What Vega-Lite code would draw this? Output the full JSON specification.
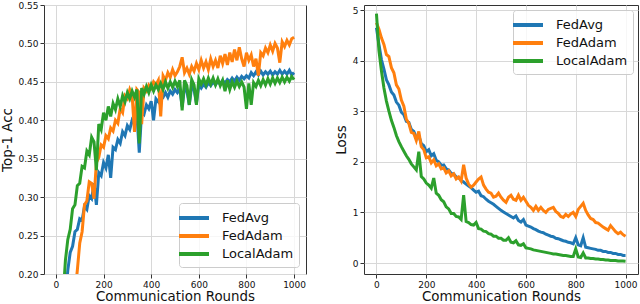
{
  "$schema": "https://vega.github.io/schema/vega-lite/v6.json",
  "padding": {"left": 0, "top": 0, "right": 3, "bottom": 0},
  "config": {
    "font": "DejaVu Sans",
    "view": {"stroke": "#333", "strokeWidth": 1},
    "axis": {"grid": true, "gridColor": "#d8d8d8", "gridWidth": 1, "domain": false, "tickColor": "#333", "tickSize": 4, "labelFontSize": 9, "labelColor": "#111", "labelPadding": 2, "titleFontSize": 13.4, "titleFontWeight": "normal", "titleColor": "#111"},
    "legend": {"title": null, "symbolType": "M-1.875,0H1.875", "symbolSize": 256, "symbolStrokeWidth": 4, "labelFontSize": 13, "labelColor": "#111", "labelOffset": 18, "rowPadding": 0, "padding": 5, "fillColor": "rgba(255,255,255,0.8)", "strokeColor": "#cccccc", "cornerRadius": 3}
  },
  "datasets": {
    "d": [
      {"round":0,"method":"FedAvg","acc":0.010,"loss":4.65},
      {"round":10,"method":"FedAvg","acc":0.030,"loss":4.32},
      {"round":20,"method":"FedAvg","acc":0.070,"loss":4.02},
      {"round":30,"method":"FedAvg","acc":0.120,"loss":3.83},
      {"round":40,"method":"FedAvg","acc":0.170,"loss":3.62},
      {"round":50,"method":"FedAvg","acc":0.205,"loss":3.52},
      {"round":60,"method":"FedAvg","acc":0.228,"loss":3.38},
      {"round":70,"method":"FedAvg","acc":0.236,"loss":3.32},
      {"round":80,"method":"FedAvg","acc":0.255,"loss":3.18},
      {"round":90,"method":"FedAvg","acc":0.258,"loss":3.12},
      {"round":100,"method":"FedAvg","acc":0.272,"loss":2.98},
      {"round":110,"method":"FedAvg","acc":0.270,"loss":2.93},
      {"round":120,"method":"FedAvg","acc":0.288,"loss":2.80},
      {"round":130,"method":"FedAvg","acc":0.284,"loss":2.78},
      {"round":140,"method":"FedAvg","acc":0.302,"loss":2.64},
      {"round":150,"method":"FedAvg","acc":0.298,"loss":2.60},
      {"round":160,"method":"FedAvg","acc":0.318,"loss":2.48},
      {"round":170,"method":"FedAvg","acc":0.290,"loss":2.52},
      {"round":180,"method":"FedAvg","acc":0.332,"loss":2.36},
      {"round":190,"method":"FedAvg","acc":0.328,"loss":2.32},
      {"round":200,"method":"FedAvg","acc":0.345,"loss":2.20},
      {"round":210,"method":"FedAvg","acc":0.338,"loss":2.24},
      {"round":220,"method":"FedAvg","acc":0.355,"loss":2.12},
      {"round":230,"method":"FedAvg","acc":0.325,"loss":2.16},
      {"round":240,"method":"FedAvg","acc":0.365,"loss":2.03},
      {"round":250,"method":"FedAvg","acc":0.362,"loss":2.00},
      {"round":260,"method":"FedAvg","acc":0.375,"loss":1.93},
      {"round":270,"method":"FedAvg","acc":0.370,"loss":1.94},
      {"round":280,"method":"FedAvg","acc":0.385,"loss":1.86},
      {"round":290,"method":"FedAvg","acc":0.380,"loss":1.84},
      {"round":300,"method":"FedAvg","acc":0.393,"loss":1.77},
      {"round":310,"method":"FedAvg","acc":0.388,"loss":1.76},
      {"round":320,"method":"FedAvg","acc":0.400,"loss":1.70},
      {"round":330,"method":"FedAvg","acc":0.395,"loss":1.69},
      {"round":340,"method":"FedAvg","acc":0.408,"loss":1.63},
      {"round":350,"method":"FedAvg","acc":0.358,"loss":1.60},
      {"round":360,"method":"FedAvg","acc":0.412,"loss":1.56},
      {"round":370,"method":"FedAvg","acc":0.408,"loss":1.52},
      {"round":380,"method":"FedAvg","acc":0.420,"loss":1.49},
      {"round":390,"method":"FedAvg","acc":0.415,"loss":1.44},
      {"round":400,"method":"FedAvg","acc":0.425,"loss":1.40},
      {"round":410,"method":"FedAvg","acc":0.400,"loss":1.42},
      {"round":420,"method":"FedAvg","acc":0.428,"loss":1.33},
      {"round":430,"method":"FedAvg","acc":0.424,"loss":1.31},
      {"round":440,"method":"FedAvg","acc":0.432,"loss":1.26},
      {"round":450,"method":"FedAvg","acc":0.430,"loss":1.22},
      {"round":460,"method":"FedAvg","acc":0.436,"loss":1.19},
      {"round":470,"method":"FedAvg","acc":0.430,"loss":1.16},
      {"round":480,"method":"FedAvg","acc":0.438,"loss":1.12},
      {"round":490,"method":"FedAvg","acc":0.434,"loss":1.08},
      {"round":500,"method":"FedAvg","acc":0.440,"loss":1.04},
      {"round":510,"method":"FedAvg","acc":0.436,"loss":1.01},
      {"round":520,"method":"FedAvg","acc":0.441,"loss":0.98},
      {"round":530,"method":"FedAvg","acc":0.418,"loss":0.95},
      {"round":540,"method":"FedAvg","acc":0.442,"loss":0.92},
      {"round":550,"method":"FedAvg","acc":0.438,"loss":0.89},
      {"round":560,"method":"FedAvg","acc":0.420,"loss":0.93},
      {"round":570,"method":"FedAvg","acc":0.444,"loss":0.84},
      {"round":580,"method":"FedAvg","acc":0.440,"loss":0.81},
      {"round":590,"method":"FedAvg","acc":0.422,"loss":0.86},
      {"round":600,"method":"FedAvg","acc":0.446,"loss":0.75},
      {"round":610,"method":"FedAvg","acc":0.442,"loss":0.73},
      {"round":620,"method":"FedAvg","acc":0.447,"loss":0.71},
      {"round":630,"method":"FedAvg","acc":0.443,"loss":0.68},
      {"round":640,"method":"FedAvg","acc":0.449,"loss":0.66},
      {"round":650,"method":"FedAvg","acc":0.445,"loss":0.63},
      {"round":660,"method":"FedAvg","acc":0.450,"loss":0.61},
      {"round":670,"method":"FedAvg","acc":0.446,"loss":0.60},
      {"round":680,"method":"FedAvg","acc":0.451,"loss":0.57},
      {"round":690,"method":"FedAvg","acc":0.447,"loss":0.55},
      {"round":700,"method":"FedAvg","acc":0.452,"loss":0.53},
      {"round":710,"method":"FedAvg","acc":0.448,"loss":0.52},
      {"round":720,"method":"FedAvg","acc":0.453,"loss":0.49},
      {"round":730,"method":"FedAvg","acc":0.450,"loss":0.48},
      {"round":740,"method":"FedAvg","acc":0.455,"loss":0.46},
      {"round":750,"method":"FedAvg","acc":0.451,"loss":0.44},
      {"round":760,"method":"FedAvg","acc":0.456,"loss":0.43},
      {"round":770,"method":"FedAvg","acc":0.452,"loss":0.41},
      {"round":780,"method":"FedAvg","acc":0.457,"loss":0.40},
      {"round":790,"method":"FedAvg","acc":0.454,"loss":0.38},
      {"round":800,"method":"FedAvg","acc":0.458,"loss":0.50},
      {"round":810,"method":"FedAvg","acc":0.455,"loss":0.36},
      {"round":820,"method":"FedAvg","acc":0.462,"loss":0.34},
      {"round":830,"method":"FedAvg","acc":0.458,"loss":0.50},
      {"round":840,"method":"FedAvg","acc":0.463,"loss":0.31},
      {"round":850,"method":"FedAvg","acc":0.459,"loss":0.30},
      {"round":860,"method":"FedAvg","acc":0.464,"loss":0.29},
      {"round":870,"method":"FedAvg","acc":0.459,"loss":0.28},
      {"round":880,"method":"FedAvg","acc":0.463,"loss":0.27},
      {"round":890,"method":"FedAvg","acc":0.460,"loss":0.25},
      {"round":900,"method":"FedAvg","acc":0.464,"loss":0.25},
      {"round":910,"method":"FedAvg","acc":0.459,"loss":0.23},
      {"round":920,"method":"FedAvg","acc":0.463,"loss":0.23},
      {"round":930,"method":"FedAvg","acc":0.460,"loss":0.21},
      {"round":940,"method":"FedAvg","acc":0.465,"loss":0.21},
      {"round":950,"method":"FedAvg","acc":0.460,"loss":0.19},
      {"round":960,"method":"FedAvg","acc":0.464,"loss":0.19},
      {"round":970,"method":"FedAvg","acc":0.460,"loss":0.17},
      {"round":980,"method":"FedAvg","acc":0.465,"loss":0.17},
      {"round":990,"method":"FedAvg","acc":0.459,"loss":0.15},
      {"round":1000,"method":"FedAvg","acc":0.462,"loss":0.15},
      {"round":0,"method":"FedAdam","acc":0.005,"loss":4.75},
      {"round":10,"method":"FedAdam","acc":0.010,"loss":4.62},
      {"round":20,"method":"FedAdam","acc":0.020,"loss":4.45},
      {"round":30,"method":"FedAdam","acc":0.030,"loss":4.32},
      {"round":40,"method":"FedAdam","acc":0.050,"loss":4.12},
      {"round":50,"method":"FedAdam","acc":0.080,"loss":4.08},
      {"round":60,"method":"FedAdam","acc":0.110,"loss":3.86},
      {"round":70,"method":"FedAdam","acc":0.140,"loss":3.76},
      {"round":80,"method":"FedAdam","acc":0.175,"loss":3.52},
      {"round":90,"method":"FedAdam","acc":0.205,"loss":3.44},
      {"round":100,"method":"FedAdam","acc":0.240,"loss":3.22},
      {"round":110,"method":"FedAdam","acc":0.255,"loss":3.10},
      {"round":120,"method":"FedAdam","acc":0.290,"loss":2.84},
      {"round":130,"method":"FedAdam","acc":0.295,"loss":2.76},
      {"round":140,"method":"FedAdam","acc":0.320,"loss":2.58},
      {"round":150,"method":"FedAdam","acc":0.318,"loss":2.56},
      {"round":160,"method":"FedAdam","acc":0.298,"loss":2.42},
      {"round":170,"method":"FedAdam","acc":0.345,"loss":2.60},
      {"round":180,"method":"FedAdam","acc":0.352,"loss":2.30},
      {"round":190,"method":"FedAdam","acc":0.368,"loss":2.24},
      {"round":200,"method":"FedAdam","acc":0.365,"loss":2.08},
      {"round":210,"method":"FedAdam","acc":0.380,"loss":2.10},
      {"round":220,"method":"FedAdam","acc":0.376,"loss":1.98},
      {"round":230,"method":"FedAdam","acc":0.390,"loss":2.04},
      {"round":240,"method":"FedAdam","acc":0.386,"loss":1.92},
      {"round":250,"method":"FedAdam","acc":0.400,"loss":1.96},
      {"round":260,"method":"FedAdam","acc":0.396,"loss":1.86},
      {"round":270,"method":"FedAdam","acc":0.415,"loss":1.88},
      {"round":280,"method":"FedAdam","acc":0.410,"loss":1.78},
      {"round":290,"method":"FedAdam","acc":0.432,"loss":1.82},
      {"round":300,"method":"FedAdam","acc":0.428,"loss":1.72},
      {"round":310,"method":"FedAdam","acc":0.440,"loss":1.76},
      {"round":320,"method":"FedAdam","acc":0.432,"loss":1.66},
      {"round":330,"method":"FedAdam","acc":0.385,"loss":1.70},
      {"round":340,"method":"FedAdam","acc":0.440,"loss":1.62},
      {"round":350,"method":"FedAdam","acc":0.436,"loss":1.94},
      {"round":360,"method":"FedAdam","acc":0.395,"loss":1.68},
      {"round":370,"method":"FedAdam","acc":0.442,"loss":1.56},
      {"round":380,"method":"FedAdam","acc":0.438,"loss":1.50},
      {"round":390,"method":"FedAdam","acc":0.446,"loss":1.54},
      {"round":400,"method":"FedAdam","acc":0.442,"loss":1.60},
      {"round":410,"method":"FedAdam","acc":0.450,"loss":1.66},
      {"round":420,"method":"FedAdam","acc":0.446,"loss":1.70},
      {"round":430,"method":"FedAdam","acc":0.452,"loss":1.54},
      {"round":440,"method":"FedAdam","acc":0.405,"loss":1.46},
      {"round":450,"method":"FedAdam","acc":0.458,"loss":1.40},
      {"round":460,"method":"FedAdam","acc":0.452,"loss":1.38},
      {"round":470,"method":"FedAdam","acc":0.462,"loss":1.30},
      {"round":480,"method":"FedAdam","acc":0.456,"loss":1.32},
      {"round":490,"method":"FedAdam","acc":0.466,"loss":1.38},
      {"round":500,"method":"FedAdam","acc":0.458,"loss":1.30},
      {"round":510,"method":"FedAdam","acc":0.463,"loss":1.24},
      {"round":520,"method":"FedAdam","acc":0.470,"loss":1.20},
      {"round":530,"method":"FedAdam","acc":0.482,"loss":1.30},
      {"round":540,"method":"FedAdam","acc":0.462,"loss":1.34},
      {"round":550,"method":"FedAdam","acc":0.468,"loss":1.26},
      {"round":560,"method":"FedAdam","acc":0.460,"loss":1.24},
      {"round":570,"method":"FedAdam","acc":0.470,"loss":1.34},
      {"round":580,"method":"FedAdam","acc":0.464,"loss":1.24},
      {"round":590,"method":"FedAdam","acc":0.474,"loss":1.30},
      {"round":600,"method":"FedAdam","acc":0.466,"loss":1.22},
      {"round":610,"method":"FedAdam","acc":0.478,"loss":1.14},
      {"round":620,"method":"FedAdam","acc":0.468,"loss":1.10},
      {"round":630,"method":"FedAdam","acc":0.476,"loss":1.04},
      {"round":640,"method":"FedAdam","acc":0.466,"loss":1.12},
      {"round":650,"method":"FedAdam","acc":0.480,"loss":1.04},
      {"round":660,"method":"FedAdam","acc":0.470,"loss":1.10},
      {"round":670,"method":"FedAdam","acc":0.478,"loss":1.04},
      {"round":680,"method":"FedAdam","acc":0.468,"loss":1.00},
      {"round":690,"method":"FedAdam","acc":0.484,"loss":1.06},
      {"round":700,"method":"FedAdam","acc":0.474,"loss":1.08},
      {"round":710,"method":"FedAdam","acc":0.486,"loss":1.10},
      {"round":720,"method":"FedAdam","acc":0.472,"loss":1.02},
      {"round":730,"method":"FedAdam","acc":0.488,"loss":0.98},
      {"round":740,"method":"FedAdam","acc":0.476,"loss":0.92},
      {"round":750,"method":"FedAdam","acc":0.492,"loss":0.90},
      {"round":760,"method":"FedAdam","acc":0.478,"loss":0.96},
      {"round":770,"method":"FedAdam","acc":0.495,"loss":0.92},
      {"round":780,"method":"FedAdam","acc":0.480,"loss":0.97},
      {"round":790,"method":"FedAdam","acc":0.470,"loss":1.00},
      {"round":800,"method":"FedAdam","acc":0.488,"loss":0.92},
      {"round":810,"method":"FedAdam","acc":0.478,"loss":1.06},
      {"round":820,"method":"FedAdam","acc":0.485,"loss":1.12},
      {"round":830,"method":"FedAdam","acc":0.470,"loss":1.18},
      {"round":840,"method":"FedAdam","acc":0.480,"loss":1.04},
      {"round":850,"method":"FedAdam","acc":0.458,"loss":0.95},
      {"round":860,"method":"FedAdam","acc":0.488,"loss":0.88},
      {"round":870,"method":"FedAdam","acc":0.484,"loss":0.86},
      {"round":880,"method":"FedAdam","acc":0.494,"loss":0.80},
      {"round":890,"method":"FedAdam","acc":0.488,"loss":0.79},
      {"round":900,"method":"FedAdam","acc":0.498,"loss":0.75},
      {"round":910,"method":"FedAdam","acc":0.490,"loss":0.71},
      {"round":920,"method":"FedAdam","acc":0.500,"loss":0.68},
      {"round":930,"method":"FedAdam","acc":0.494,"loss":0.65},
      {"round":940,"method":"FedAdam","acc":0.475,"loss":0.74},
      {"round":950,"method":"FedAdam","acc":0.502,"loss":0.68},
      {"round":960,"method":"FedAdam","acc":0.496,"loss":0.62},
      {"round":970,"method":"FedAdam","acc":0.504,"loss":0.58},
      {"round":980,"method":"FedAdam","acc":0.498,"loss":0.61},
      {"round":990,"method":"FedAdam","acc":0.506,"loss":0.56},
      {"round":1000,"method":"FedAdam","acc":0.508,"loss":0.53},
      {"round":0,"method":"LocalAdam","acc":0.010,"loss":4.93},
      {"round":10,"method":"LocalAdam","acc":0.050,"loss":4.20},
      {"round":20,"method":"LocalAdam","acc":0.100,"loss":3.80},
      {"round":30,"method":"LocalAdam","acc":0.170,"loss":3.46},
      {"round":40,"method":"LocalAdam","acc":0.218,"loss":3.20},
      {"round":50,"method":"LocalAdam","acc":0.245,"loss":3.00},
      {"round":60,"method":"LocalAdam","acc":0.258,"loss":2.82},
      {"round":70,"method":"LocalAdam","acc":0.285,"loss":2.68},
      {"round":80,"method":"LocalAdam","acc":0.290,"loss":2.52},
      {"round":90,"method":"LocalAdam","acc":0.315,"loss":2.40},
      {"round":100,"method":"LocalAdam","acc":0.318,"loss":2.30},
      {"round":110,"method":"LocalAdam","acc":0.340,"loss":2.21},
      {"round":120,"method":"LocalAdam","acc":0.338,"loss":2.12},
      {"round":130,"method":"LocalAdam","acc":0.360,"loss":2.05},
      {"round":140,"method":"LocalAdam","acc":0.355,"loss":1.96},
      {"round":150,"method":"LocalAdam","acc":0.378,"loss":1.90},
      {"round":160,"method":"LocalAdam","acc":0.372,"loss":1.84},
      {"round":170,"method":"LocalAdam","acc":0.335,"loss":2.20},
      {"round":180,"method":"LocalAdam","acc":0.395,"loss":1.71},
      {"round":190,"method":"LocalAdam","acc":0.388,"loss":1.66},
      {"round":200,"method":"LocalAdam","acc":0.410,"loss":1.58},
      {"round":210,"method":"LocalAdam","acc":0.400,"loss":1.54},
      {"round":220,"method":"LocalAdam","acc":0.418,"loss":1.48},
      {"round":230,"method":"LocalAdam","acc":0.405,"loss":1.68},
      {"round":240,"method":"LocalAdam","acc":0.422,"loss":1.38},
      {"round":250,"method":"LocalAdam","acc":0.414,"loss":1.34},
      {"round":260,"method":"LocalAdam","acc":0.428,"loss":1.25},
      {"round":270,"method":"LocalAdam","acc":0.418,"loss":1.21},
      {"round":280,"method":"LocalAdam","acc":0.432,"loss":1.11},
      {"round":290,"method":"LocalAdam","acc":0.424,"loss":1.07},
      {"round":300,"method":"LocalAdam","acc":0.436,"loss":0.98},
      {"round":310,"method":"LocalAdam","acc":0.428,"loss":0.98},
      {"round":320,"method":"LocalAdam","acc":0.438,"loss":0.92},
      {"round":330,"method":"LocalAdam","acc":0.430,"loss":0.91},
      {"round":340,"method":"LocalAdam","acc":0.440,"loss":0.86},
      {"round":350,"method":"LocalAdam","acc":0.370,"loss":1.34},
      {"round":360,"method":"LocalAdam","acc":0.442,"loss":0.82},
      {"round":370,"method":"LocalAdam","acc":0.434,"loss":0.80},
      {"round":380,"method":"LocalAdam","acc":0.444,"loss":0.76},
      {"round":390,"method":"LocalAdam","acc":0.436,"loss":0.75},
      {"round":400,"method":"LocalAdam","acc":0.446,"loss":0.80},
      {"round":410,"method":"LocalAdam","acc":0.438,"loss":0.68},
      {"round":420,"method":"LocalAdam","acc":0.446,"loss":0.67},
      {"round":430,"method":"LocalAdam","acc":0.440,"loss":0.63},
      {"round":440,"method":"LocalAdam","acc":0.448,"loss":0.62},
      {"round":450,"method":"LocalAdam","acc":0.440,"loss":0.58},
      {"round":460,"method":"LocalAdam","acc":0.450,"loss":0.57},
      {"round":470,"method":"LocalAdam","acc":0.442,"loss":0.53},
      {"round":480,"method":"LocalAdam","acc":0.450,"loss":0.53},
      {"round":490,"method":"LocalAdam","acc":0.443,"loss":0.49},
      {"round":500,"method":"LocalAdam","acc":0.451,"loss":0.49},
      {"round":510,"method":"LocalAdam","acc":0.444,"loss":0.45},
      {"round":520,"method":"LocalAdam","acc":0.452,"loss":0.45},
      {"round":530,"method":"LocalAdam","acc":0.413,"loss":0.50},
      {"round":540,"method":"LocalAdam","acc":0.452,"loss":0.41},
      {"round":550,"method":"LocalAdam","acc":0.445,"loss":0.40},
      {"round":560,"method":"LocalAdam","acc":0.420,"loss":0.44},
      {"round":570,"method":"LocalAdam","acc":0.453,"loss":0.36},
      {"round":580,"method":"LocalAdam","acc":0.446,"loss":0.35},
      {"round":590,"method":"LocalAdam","acc":0.420,"loss":0.38},
      {"round":600,"method":"LocalAdam","acc":0.454,"loss":0.30},
      {"round":610,"method":"LocalAdam","acc":0.447,"loss":0.29},
      {"round":620,"method":"LocalAdam","acc":0.454,"loss":0.28},
      {"round":630,"method":"LocalAdam","acc":0.446,"loss":0.26},
      {"round":640,"method":"LocalAdam","acc":0.455,"loss":0.25},
      {"round":650,"method":"LocalAdam","acc":0.447,"loss":0.24},
      {"round":660,"method":"LocalAdam","acc":0.455,"loss":0.23},
      {"round":670,"method":"LocalAdam","acc":0.446,"loss":0.22},
      {"round":680,"method":"LocalAdam","acc":0.454,"loss":0.21},
      {"round":690,"method":"LocalAdam","acc":0.445,"loss":0.20},
      {"round":700,"method":"LocalAdam","acc":0.452,"loss":0.19},
      {"round":710,"method":"LocalAdam","acc":0.438,"loss":0.18},
      {"round":720,"method":"LocalAdam","acc":0.452,"loss":0.18},
      {"round":730,"method":"LocalAdam","acc":0.440,"loss":0.17},
      {"round":740,"method":"LocalAdam","acc":0.450,"loss":0.16},
      {"round":750,"method":"LocalAdam","acc":0.443,"loss":0.15},
      {"round":760,"method":"LocalAdam","acc":0.451,"loss":0.15},
      {"round":770,"method":"LocalAdam","acc":0.444,"loss":0.14},
      {"round":780,"method":"LocalAdam","acc":0.450,"loss":0.13},
      {"round":790,"method":"LocalAdam","acc":0.443,"loss":0.13},
      {"round":800,"method":"LocalAdam","acc":0.415,"loss":0.28},
      {"round":810,"method":"LocalAdam","acc":0.448,"loss":0.12},
      {"round":820,"method":"LocalAdam","acc":0.420,"loss":0.11},
      {"round":830,"method":"LocalAdam","acc":0.449,"loss":0.20},
      {"round":840,"method":"LocalAdam","acc":0.444,"loss":0.10},
      {"round":850,"method":"LocalAdam","acc":0.452,"loss":0.10},
      {"round":860,"method":"LocalAdam","acc":0.445,"loss":0.09},
      {"round":870,"method":"LocalAdam","acc":0.453,"loss":0.09},
      {"round":880,"method":"LocalAdam","acc":0.446,"loss":0.08},
      {"round":890,"method":"LocalAdam","acc":0.454,"loss":0.08},
      {"round":900,"method":"LocalAdam","acc":0.447,"loss":0.07},
      {"round":910,"method":"LocalAdam","acc":0.455,"loss":0.07},
      {"round":920,"method":"LocalAdam","acc":0.448,"loss":0.06},
      {"round":930,"method":"LocalAdam","acc":0.455,"loss":0.06},
      {"round":940,"method":"LocalAdam","acc":0.449,"loss":0.05},
      {"round":950,"method":"LocalAdam","acc":0.456,"loss":0.05},
      {"round":960,"method":"LocalAdam","acc":0.450,"loss":0.05},
      {"round":970,"method":"LocalAdam","acc":0.456,"loss":0.04},
      {"round":980,"method":"LocalAdam","acc":0.451,"loss":0.04},
      {"round":990,"method":"LocalAdam","acc":0.457,"loss":0.04},
      {"round":1000,"method":"LocalAdam","acc":0.453,"loss":0.035}
    ]
  },
  "spacing": 26,
  "resolve": {"scale": {"color": "independent"}, "legend": {"color": "independent"}},
  "hconcat": [
    {
      "width": 262,
      "height": 269,
      "data": {"name": "d"},
      "mark": {"type": "line", "strokeWidth": 3, "clip": true},
      "encoding": {
        "x": {"field": "round", "type": "quantitative", "scale": {"domain": [-50, 1050], "nice": false, "zero": false}, "axis": {"values": [0, 200, 400, 600, 800, 1000], "format": "d", "title": "Communication Rounds", "titlePadding": 0}},
        "y": {"field": "acc", "type": "quantitative", "scale": {"domain": [0.2, 0.55], "nice": false, "zero": false}, "axis": {"values": [0.2, 0.25, 0.3, 0.35, 0.4, 0.45, 0.5, 0.55], "format": ".2f", "title": "Top-1 Acc", "titlePadding": 3}},
        "color": {"field": "method", "type": "nominal", "scale": {"domain": ["FedAvg", "FedAdam", "LocalAdam"], "range": ["#1f77b4", "#ff7f0e", "#2ca02c"]}, "legend": {"orient": "bottom-right", "offset": 7}}
      }
    },
    {
      "width": 274,
      "height": 269,
      "data": {"name": "d"},
      "mark": {"type": "line", "strokeWidth": 3, "clip": true},
      "encoding": {
        "x": {"field": "round", "type": "quantitative", "scale": {"domain": [-50, 1050], "nice": false, "zero": false}, "axis": {"values": [0, 200, 400, 600, 800, 1000], "format": "d", "title": "Communication Rounds", "titlePadding": 0}},
        "y": {"field": "loss", "type": "quantitative", "scale": {"domain": [-0.217, 5.099], "nice": false, "zero": false}, "axis": {"values": [0, 1, 2, 3, 4, 5], "title": "Loss", "titlePadding": 4}},
        "color": {"field": "method", "type": "nominal", "scale": {"domain": ["FedAvg", "FedAdam", "LocalAdam"], "range": ["#1f77b4", "#ff7f0e", "#2ca02c"]}, "legend": {"orient": "top-right", "offset": 5}}
      }
    }
  ]
}
